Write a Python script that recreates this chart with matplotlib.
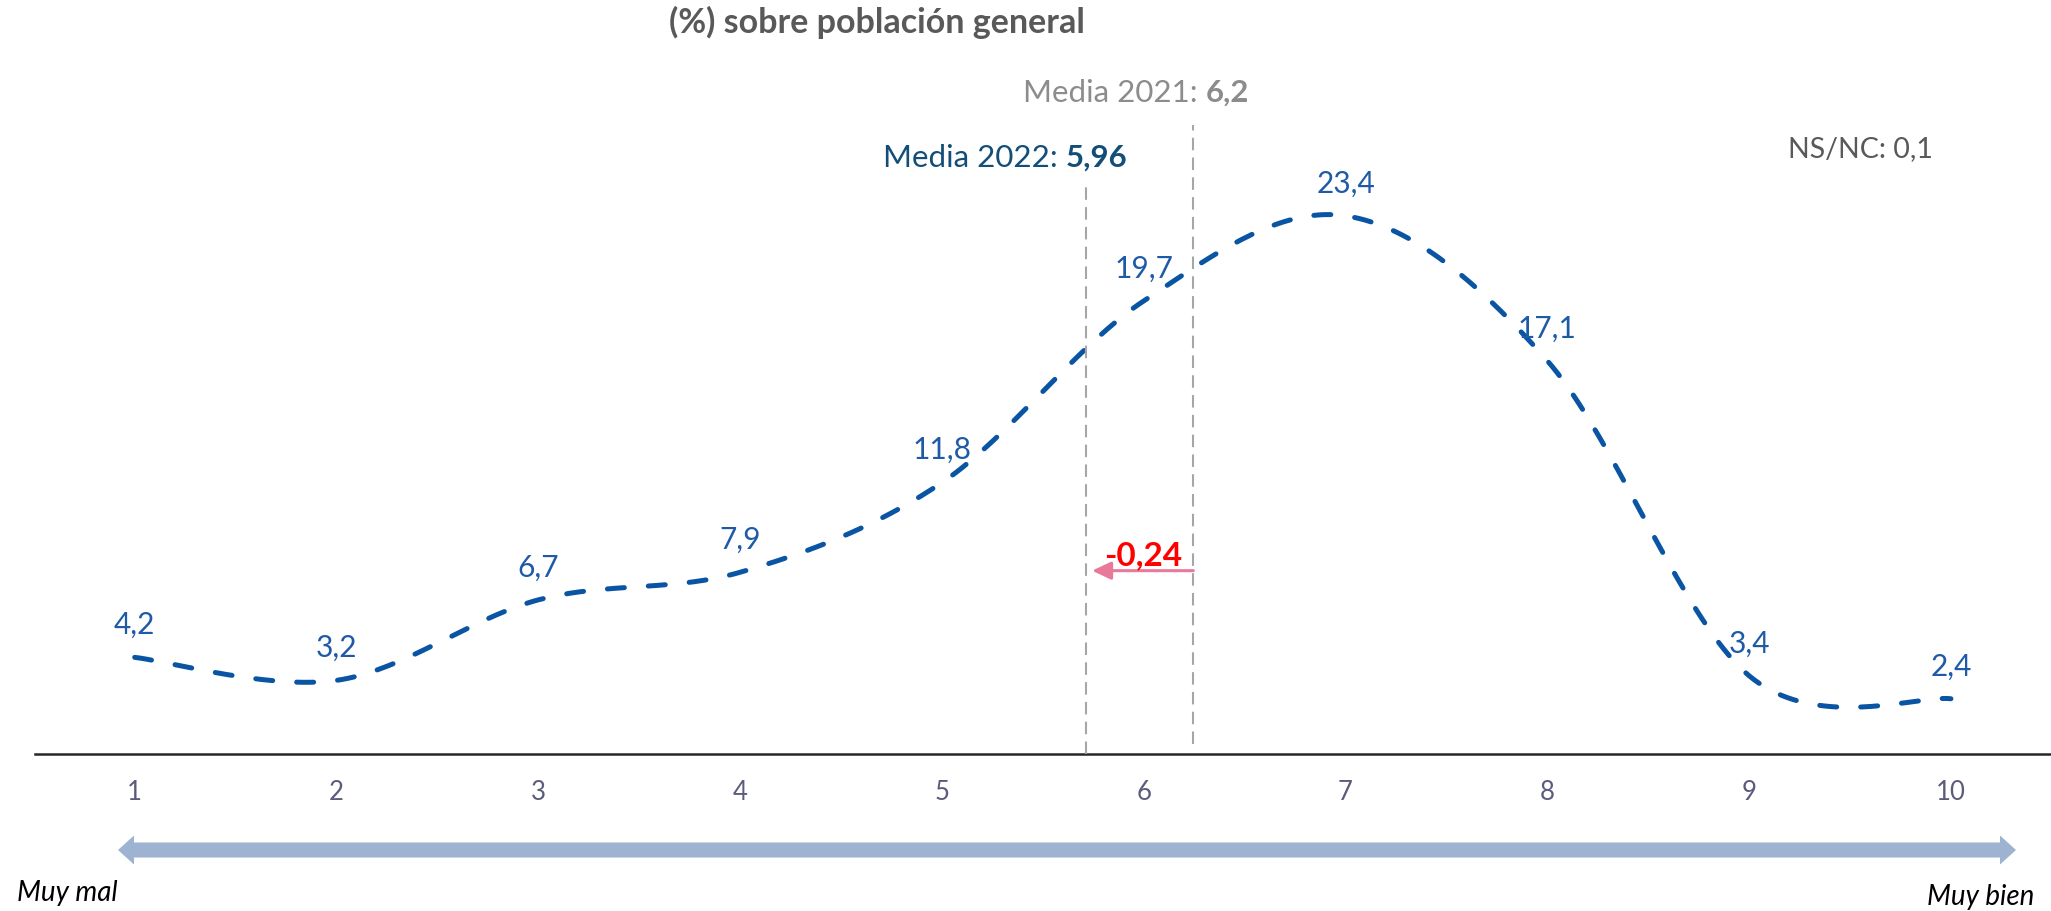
import numpy as np
import matplotlib.pyplot as plt
from matplotlib.patches import Polygon

plt.rcParams['font.family'] = ['Lato', 'DejaVu Sans']

# datos
notas = [1, 2, 3, 4, 5, 6, 7, 8, 9, 10]
porcentajes = [4.2, 3.2, 6.7, 7.9, 11.8, 19.7, 23.4, 17.1, 3.4, 2.4]
media_2022 = 5.96
media_2021 = 6.2
ns_nc = 0.1
titulo = "(%) sobre población general"
extremos = ["Muy mal", "Muy bien"]

# posicion de las lineas de media sobre el eje (tal como en el original)
pos_media_2022 = 5.714
pos_media_2021 = 6.246

W, H = 2051, 912


def fmt(v):
    return f"{round(v, 2):g}".replace('.', ',')


def fx(px):
    return px / W


def fy(py):
    return 1 - py / H


def suavizar(x, y, n=40):
    # curva suavizada tipo Excel (Catmull-Rom en forma Bezier)
    P = np.column_stack([x, y]).astype(float)
    P = np.vstack([P[0], P, P[-1]])
    t = np.linspace(0, 1, n)[:, None]
    out = []
    for i in range(1, len(P) - 2):
        p0, p1, p2, p3 = P[i - 1], P[i], P[i + 1], P[i + 2]
        c1 = p1 + (p2 - p0) / 6
        c2 = p2 - (p3 - p1) / 6
        seg = (1 - t)**3 * p1 + 3 * (1 - t)**2 * t * c1 + 3 * (1 - t) * t**2 * c2 + t**3 * p2
        out.append(seg if i == 1 else seg[1:])
    return np.vstack(out)


fig = plt.figure(figsize=(W / 100, H / 100), dpi=100)
ax = fig.add_axes([0, 0, 1, 1])
ax.set_xlim(0.3325, 10.496)
ax.set_ylim(-6.83, 32.83)
ax.axis('off')

# eje
ax.axhline(0, xmin=35 / W, xmax=1, color='#262626', lw=1.8)
for n in notas:
    ax.text(n, -1.63, str(n), ha='center', va='center', fontsize=18.5, color='#5b5b7b')

# curva
curva = suavizar(notas, porcentajes)
ax.plot(curva[:, 0], curva[:, 1], color='#0a55a3', lw=3.6,
        dashes=(3.4, 4.8), dash_capstyle='round')
for n, v in zip(notas, porcentajes):
    ax.annotate(fmt(v), (n, v), xytext=(0, 24), textcoords='offset points',
                ha='center', va='center', fontsize=21.5, color='#1f5aa6')

# lineas de media
ax.plot([pos_media_2022] * 2, [0, 24.92], color='#a6a6a6', lw=1.5, dashes=(6, 3.5))
ax.plot([pos_media_2021] * 2, [0.44, 27.36], color='#a6a6a6', lw=1.5, dashes=(6, 3.5))

b22 = fig.text(fx(1127), fy(158), fmt(media_2022), ha='right', va='center',
               fontsize=22.5, fontweight='bold', color='#124e78')
ax.annotate("Media 2022: ", xy=(0, 0.5), xycoords=b22, ha='right', va='center',
            fontsize=22.5, color='#124e78')
b21 = fig.text(fx(1249), fy(93), fmt(media_2021), ha='right', va='center',
               fontsize=22.5, fontweight='bold', color='#8c8c8c')
ax.annotate("Media 2021: ", xy=(0, 0.5), xycoords=b21, ha='right', va='center',
            fontsize=22.5, color='#8c8c8c')

# diferencia
ax.annotate('', xy=(5.744, 7.97), xytext=(pos_media_2021, 7.97),
            arrowprops=dict(arrowstyle='-|>,head_length=1.15,head_width=0.54',
                            color='#e8799a', lw=2.2, shrinkA=0, shrinkB=0,
                            mutation_scale=10))
fig.text(fx(1143), fy(556), fmt(media_2022 - media_2021), ha='center', va='center',
         fontsize=24, fontweight='bold', color='#ff0000')

# textos
fig.text(fx(877), fy(22), titulo, ha='center', va='center', fontsize=24.5,
         fontweight='bold', color='#595959')
fig.text(fx(1788), fy(149), "NS/NC: " + fmt(ns_nc), ha='left', va='center',
         fontsize=20.5, color='#595959')
fig.text(fx(17), fy(893), extremos[0], ha='left', va='center', fontsize=20,
         style='italic', color='black')
fig.text(fx(1927), fy(897), extremos[1], ha='left', va='center', fontsize=20,
         style='italic', color='black')

# flecha doble
y = 851
pts = [(118, y), (134, y - 14.5), (134, y - 7.5), (2000, y - 7.5), (2000, y - 14.5),
       (2016, y), (2000, y + 14.5), (2000, y + 7.5), (134, y + 7.5), (134, y + 14.5)]
fig.patches.append(Polygon([(fx(a), fy(b)) for a, b in pts], closed=True,
                           transform=fig.transFigure, color='#9db3d1', lw=0))

fig.savefig('out.png', dpi=100)
